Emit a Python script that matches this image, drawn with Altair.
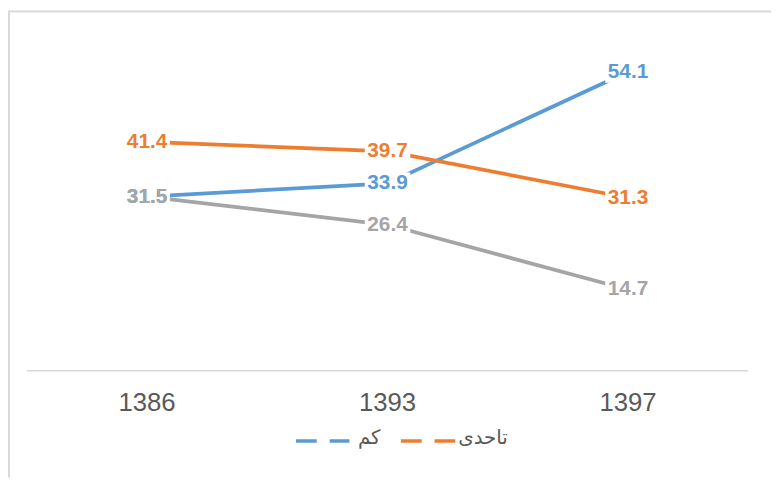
import altair as alt
import pandas as pd

years = ["1386", "1393", "1397"]
series_names = ["کم", "تاحدی", "زیاد"]
series_colors = ["#5B9BD5", "#ED7D31", "#A5A5A5"]
kam = [31.5, 33.9, 54.1]
tahadi = [41.4, 39.7, 31.3]
ziyad = [31.5, 26.4, 14.7]

values = [kam, tahadi, ziyad]
rows = []
for name, vals in zip(series_names, values):
    for y, v in zip(years, vals):
        rows.append({"year": y, "series": name, "value": v, "label": f"{v:.1f}"})
df = pd.DataFrame(rows)

W, H = 771, 472
xs = alt.Scale(type="point", domain=years, range=[19, 748], padding=0.5)
ys = alt.Scale(domain=[0, 60], range=[364, 29])
cs = alt.Scale(domain=series_names, range=series_colors)

X = alt.X("year:N", scale=xs, axis=None)
Y = alt.Y("value:Q", scale=ys, axis=None)
C = alt.Color("series:N", scale=cs, legend=None)

base = alt.Chart(df)

# frame border (top and left visible in the crop)
frame_top = alt.Chart(pd.DataFrame({"a": [0]})).mark_rule(color="#D9D9D9", strokeWidth=2).encode(
    x=alt.value(0), x2=alt.value(W), y=alt.value(1))
frame_left = alt.Chart(pd.DataFrame({"a": [0]})).mark_rule(color="#D9D9D9", strokeWidth=2).encode(
    x=alt.value(1), y=alt.value(0), y2=alt.value(H))

# x axis baseline
axis_line = alt.Chart(pd.DataFrame({"v": [0]})).mark_rule(color="#D9D9D9", strokeWidth=1.5).encode(
    y=alt.Y("v:Q", scale=ys, axis=None), x=alt.value(19), x2=alt.value(748))

year_labels = alt.Chart(pd.DataFrame({"year": years})).mark_text(
    font="Liberation Sans", fontSize=26, color="#595959", baseline="middle").encode(
    x=X, y=alt.value(397), text="year:N")

lines = []
for name in series_names:
    lines.append(base.transform_filter(alt.datum.series == name).mark_line(strokeWidth=3.8).encode(
        x=X, y=Y, color=C))

box_shape = "M-1,-0.48L1,-0.48L1,0.48L-1,0.48Z"
boxes = base.mark_point(shape=box_shape, filled=True, fill="white", opacity=1, strokeWidth=0,
                        size=46 * 46).encode(x=X, y=Y)

labels = base.mark_text(font="Liberation Sans", fontWeight="bold", fontSize=21,
                        baseline="middle", align="center").encode(x=X, y=Y, text="label:N", color=C)

# legend
leg_blue = alt.Chart(pd.DataFrame({"a": [0]})).mark_rule(color=series_colors[0], strokeWidth=3.5,
                                                           strokeDash=[21, 13]).encode(
    x=alt.value(291), x2=alt.value(345), y=alt.value(435))
leg_blue_t = alt.Chart(pd.DataFrame({"t": [series_names[0]]})).mark_text(
    font="DejaVu Sans", fontSize=20, color="#595959", baseline="middle", align="center").encode(
    x=alt.value(365), y=alt.value(432), text="t:N")
leg_orange = alt.Chart(pd.DataFrame({"a": [0]})).mark_rule(color=series_colors[1], strokeWidth=3.5,
                                                             strokeDash=[21, 13]).encode(
    x=alt.value(397), x2=alt.value(454), y=alt.value(435))
leg_orange_t = alt.Chart(pd.DataFrame({"t": [series_names[1]]})).mark_text(
    font="DejaVu Sans", fontSize=20, color="#595959", baseline="middle", align="center").encode(
    x=alt.value(480), y=alt.value(432), text="t:N")

chart = alt.layer(
    frame_top, frame_left, axis_line, year_labels, *lines, boxes, labels,
    leg_blue, leg_blue_t, leg_orange, leg_orange_t
).properties(
    width=W, height=H, autosize=alt.AutoSizeParams(type="none"), padding=0, background="white"
).configure_view(stroke=None, strokeWidth=0)

chart.save("out.html", embed_options={"renderer": "svg", "actions": False})
